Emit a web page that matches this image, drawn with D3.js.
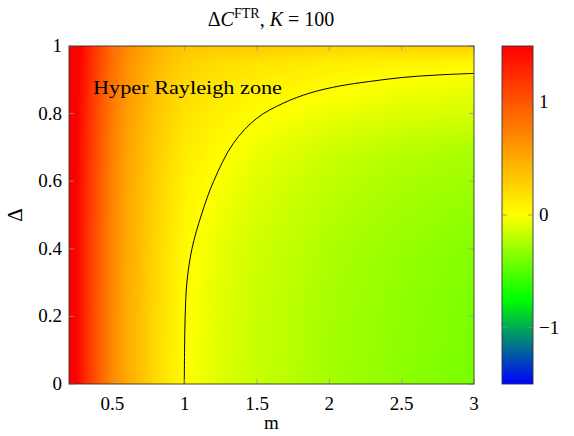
<!DOCTYPE html>
<html>
<head>
<meta charset="utf-8">
<script src="https://cdn.jsdelivr.net/npm/d3@7"></script>
<style>
  body { margin: 0; background: #fff; }
  text { font-family: "Liberation Serif", "DejaVu Serif", serif; fill: #000; }
</style>
</head>
<body>
<div class="chart"></div>
<script>
(function() {
  // grid of values (rows: delta, columns: m)
  var mValues = [0.2, 0.3, 0.4, 0.5, 0.6, 0.8, 1, 1.25, 1.5, 2, 2.5, 3];
  var deltaValues = [0, 0.2, 0.4, 0.6, 0.7, 0.8, 0.9, 0.95, 1];
  var dcValues = [
    [1.70, 1.30, 0.97, 0.70, 0.50, 0.22, 0.00, -0.10, -0.16, -0.27, -0.34, -0.40],
    [1.70, 1.30, 0.97, 0.70, 0.50, 0.22, 0.01, -0.09, -0.16, -0.26, -0.33, -0.39],
    [1.70, 1.30, 0.98, 0.71, 0.51, 0.24, 0.03, -0.07, -0.14, -0.24, -0.31, -0.36],
    [1.70, 1.32, 1.00, 0.73, 0.53, 0.27, 0.08, -0.02, -0.09, -0.19, -0.25, -0.29],
    [1.70, 1.33, 1.02, 0.75, 0.55, 0.30, 0.12, 0.02, -0.04, -0.14, -0.20, -0.24],
    [1.72, 1.35, 1.04, 0.78, 0.58, 0.33, 0.17, 0.08, 0.01, -0.05, -0.10, -0.12],
    [1.75, 1.38, 1.08, 0.82, 0.63, 0.38, 0.23, 0.15, 0.10, 0.04, -0.01, -0.03],
    [1.78, 1.40, 1.10, 0.85, 0.66, 0.42, 0.28, 0.20, 0.16, 0.10, 0.07, 0.05],
    [1.80, 1.42, 1.12, 0.88, 0.70, 0.46, 0.33, 0.32, 0.32, 0.26, 0.27, 0.28]
  ];
  // zero level contour (m, delta)
  var zeroContour = [
    [0.997, 0], [0.999, 0.1], [1.003, 0.2], [1.015, 0.3], [1.05, 0.4],
    [1.115, 0.5], [1.2, 0.6], [1.336, 0.712], [1.498, 0.786],
    [1.682, 0.831], [1.867, 0.861], [2.074, 0.882], [2.277, 0.895],
    [2.508, 0.907], [2.738, 0.914], [3, 0.919]
  ];
  var xTicks = [0.5, 1, 1.5, 2, 2.5, 3];
  var yTicks = [0, 0.2, 0.4, 0.6, 0.8, 1];
  var cbTicks = [-1, 0, 1];
  var colorStops = [-1.5, -0.75, 0, 1.5];
  var colorRange = ["#0000ff", "#00ff00", "#ffff00", "#ff0000"];

  var width = 574, height = 436,
    plot = { left: 69, right: 474, top: 46, bottom: 384 },
    cb = { left: 502, right: 533 };

  var x = d3.scaleLinear().domain([0.2, 3]).range([plot.left, plot.right]);
  var y = d3.scaleLinear().domain([0, 1]).range([plot.bottom, plot.top]);
  var cbY = d3.scaleLinear().domain([-1.5, 1.5]).range([plot.bottom, plot.top]);
  var color = d3.scaleLinear().domain(colorStops).range(colorRange).clamp(true);

  var svg = d3.select(".chart").append("svg")
    .attr("width", width)
    .attr("height", height);

  // bilinear shading between grid nodes (like shader=interp)
  function valueAt(m, d) {
    var i = Math.max(1, Math.min(mValues.length - 1, d3.bisectRight(mValues, m)));
    var j = Math.max(1, Math.min(deltaValues.length - 1, d3.bisectRight(deltaValues, d)));
    var tx = (m - mValues[i-1]) / (mValues[i] - mValues[i-1]);
    var ty = (d - deltaValues[j-1]) / (deltaValues[j] - deltaValues[j-1]);
    tx = Math.max(0, Math.min(1, tx)); ty = Math.max(0, Math.min(1, ty));
    var a = dcValues[j-1][i-1], b = dcValues[j-1][i], c = dcValues[j][i-1], e = dcValues[j][i];
    return (a*(1-tx) + b*tx)*(1-ty) + (c*(1-tx) + e*tx)*ty;
  }

  var pw = plot.right - plot.left, ph = plot.bottom - plot.top;
  var canvas = document.createElement("canvas");
  canvas.width = pw; canvas.height = ph;
  var ctx = canvas.getContext("2d");
  var img = ctx.createImageData(pw, ph);
  for (var py = 0; py < ph; py++) {
    for (var px = 0; px < pw; px++) {
      var v = valueAt(x.invert(plot.left + px + 0.5), y.invert(plot.top + py + 0.5));
      var c = d3.rgb(color(v));
      var k = (py * pw + px) * 4;
      img.data[k] = c.r; img.data[k+1] = c.g; img.data[k+2] = c.b; img.data[k+3] = 255;
    }
  }
  ctx.putImageData(img, 0, 0);
  svg.append("image")
    .attr("x", plot.left).attr("y", plot.top)
    .attr("width", pw).attr("height", ph)
    .attr("preserveAspectRatio", "none")
    .attr("href", canvas.toDataURL());

  // contour
  svg.append("path")
    .datum(zeroContour)
    .attr("fill", "none")
    .attr("stroke", "#000")
    .attr("stroke-width", 1)
    .attr("d", d3.line().x(function(d) { return x(d[0]); }).y(function(d) { return y(d[1]); }).curve(d3.curveCatmullRom));

  // inner tick marks
  var tickLen = 5;
  var ticks = svg.append("g").attr("stroke", "#999").attr("stroke-width", 0.8);
  xTicks.forEach(function(t) {
    ticks.append("line").attr("x1", x(t)).attr("x2", x(t)).attr("y1", plot.bottom).attr("y2", plot.bottom - tickLen);
    ticks.append("line").attr("x1", x(t)).attr("x2", x(t)).attr("y1", plot.top).attr("y2", plot.top + tickLen);
  });
  yTicks.forEach(function(t) {
    ticks.append("line").attr("x1", plot.left).attr("x2", plot.left + tickLen).attr("y1", y(t)).attr("y2", y(t));
    ticks.append("line").attr("x1", plot.right).attr("x2", plot.right - tickLen).attr("y1", y(t)).attr("y2", y(t));
  });

  svg.append("rect")
    .attr("x", plot.left).attr("y", plot.top)
    .attr("width", pw).attr("height", ph)
    .attr("fill", "none").attr("stroke", "#333").attr("stroke-width", 0.9);

  // tick labels
  svg.append("g").selectAll("text").data(xTicks).enter().append("text")
    .attr("x", function(d) { return x(d); })
    .attr("y", 410)
    .attr("text-anchor", "middle")
    .attr("font-size", 19)
    .text(function(d) { return d; });
  svg.append("g").selectAll("text").data(yTicks).enter().append("text")
    .attr("x", 62)
    .attr("y", function(d) { return y(d) + 6; })
    .attr("text-anchor", "end")
    .attr("font-size", 19)
    .text(function(d) { return d; });

  svg.append("text").attr("x", x(1.6)).attr("y", 429).attr("text-anchor", "middle")
    .attr("font-size", 19).text("m");
  svg.append("text").attr("transform", "translate(22," + y(0.5) + ") rotate(-90)")
    .attr("text-anchor", "middle").attr("font-size", 21).text("Δ");

  // title
  var title = svg.append("text").attr("x", 271).attr("y", 26).attr("text-anchor", "middle").attr("font-size", 20);
  title.append("tspan").text("Δ");
  title.append("tspan").attr("font-style", "italic").text("C");
  title.append("tspan").attr("dy", -8).attr("font-size", 14).text("FTR");
  title.append("tspan").attr("dy", 8).text(", ");
  title.append("tspan").attr("font-style", "italic").text("K");
  title.append("tspan").text(" = 100");

  svg.append("text").attr("x", 93).attr("y", 94).attr("font-size", 19)
    .attr("textLength", 189).attr("lengthAdjust", "spacingAndGlyphs")
    .text("Hyper Rayleigh zone");

  // colorbar
  var grad = svg.append("defs").append("linearGradient")
    .attr("id", "cbgrad").attr("x1", 0).attr("y1", 1).attr("x2", 0).attr("y2", 0);
  colorStops.forEach(function(s, i) {
    grad.append("stop").attr("offset", (s + 1.5) / 3).attr("stop-color", colorRange[i]);
  });
  svg.append("rect").attr("x", cb.left).attr("y", plot.top)
    .attr("width", cb.right - cb.left).attr("height", ph)
    .attr("fill", "url(#cbgrad)").attr("stroke", "#333").attr("stroke-width", 0.9);
  var cbt = svg.append("g").attr("stroke", "#888").attr("stroke-width", 0.8);
  cbTicks.forEach(function(t) {
    cbt.append("line").attr("x1", cb.left).attr("x2", cb.left + tickLen).attr("y1", cbY(t)).attr("y2", cbY(t));
    cbt.append("line").attr("x1", cb.right).attr("x2", cb.right - tickLen).attr("y1", cbY(t)).attr("y2", cbY(t));
  });
  svg.append("g").selectAll("text").data(cbTicks).enter().append("text")
    .attr("x", 539)
    .attr("y", function(d) { return cbY(d) + 6; })
    .attr("font-size", 19)
    .text(function(d) { return d < 0 ? "−" + Math.abs(d) : d; });
})();
</script>
</body>
</html>
